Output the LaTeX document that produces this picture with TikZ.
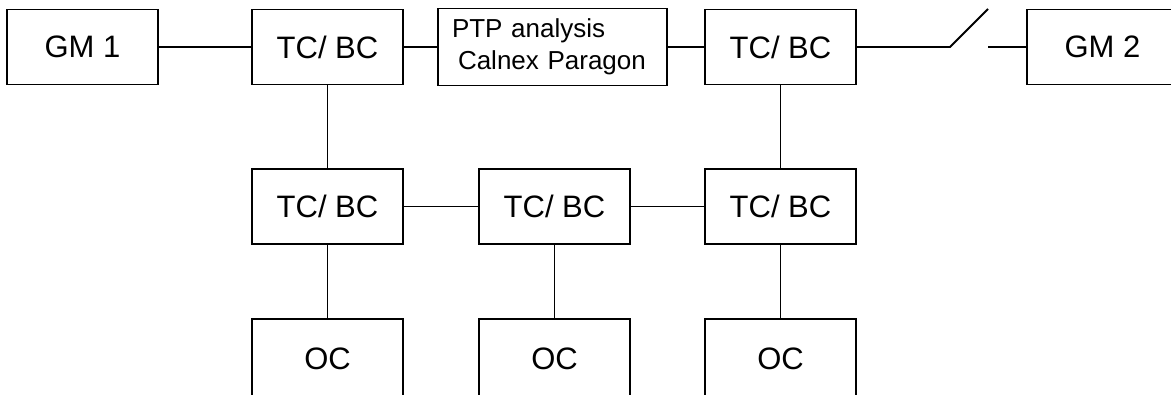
\documentclass[tikz,border=0pt]{standalone}
\usepackage{fontspec}
\setmainfont{Liberation Sans}
\usetikzlibrary{positioning}
\tikzset{every picture/.style={line width=1.8pt}}

\begin{document}
\begin{tikzpicture}
    [x=1pt, y=-1pt,
    rect/.style = {rectangle, draw, align=center, inner sep=0pt,
            minimum width=151pt, minimum height=75pt,
            font=\fontsize{31}{37}\selectfont},
    ptp/.style = {rectangle, draw, align=left, inner xsep=14pt, inner ysep=0pt,
            text width=201pt, minimum height=77pt,
            font=\fontsize{26}{32}\selectfont},
    ]
    \useasboundingbox (0,0) rectangle (1171,394);

	\node[rect] (gm1) at (82.5, 47) {GM 1};
	\node[rect] (tc1) at (327.5, 47) {TC/ BC};
	\node[ptp] (ptp) at (552.5, 47) {PTP analysis\\\hspace{6pt}Calnex Paragon};
	\node[rect] (tc2) at (780.5, 47) {TC/ BC};
	\node[rect, minimum width=170pt] (gm2) at (1112, 47) {\hspace*{-19pt}GM 2};

	\node[rect] (tc3) at (327.5, 206.5) {TC/ BC};
	\node[rect] (tc4) at (554.5, 206.5) {TC/ BC};
	\node[rect] (tc5) at (780.5, 206.5) {TC/ BC};

	\node[rect, minimum height=80pt] (oc1) at (327.5, 359) {OC};
	\node[rect, minimum height=80pt] (oc2) at (554.5, 359) {OC};
	\node[rect, minimum height=80pt] (oc3) at (780.5, 359) {OC};

	% open switch in front of GM 2
	\coordinate (sw-a) at (950, 47);
	\coordinate (sw-b) at (988, 9);
	\coordinate (sw-c) at (988, 47);

    \draw (gm1.east) -- (tc1.west);
    \draw (tc1.east) -- (ptp.west);
    \draw (ptp.east) -- (tc2.west);
    \draw (tc2.east) -- (sw-a) -- (sw-b);
    \draw (sw-c) -- (gm2.west);

    \draw (tc1.south) -- (tc3.north);
    \draw (tc2.south) -- (tc5.north);
    \draw (tc3.east) -- (tc4.west);
    \draw (tc4.east) -- (tc5.west);

    \draw (tc3.south) -- (oc1.north);
    \draw (tc4.south) -- (oc2.north);
    \draw (tc5.south) -- (oc3.north);
\end{tikzpicture}
\end{document}
